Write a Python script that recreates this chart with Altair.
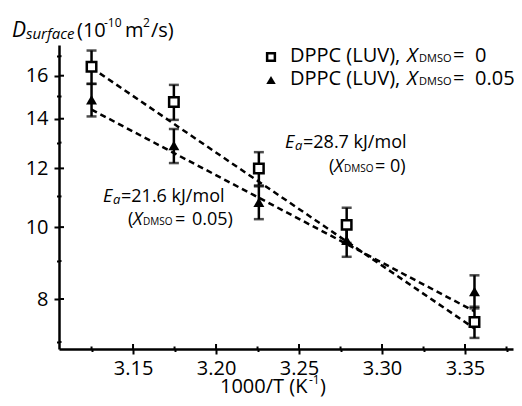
import altair as alt
import pandas as pd

FONT = "Open Sans"

# ---- data ----
inv_T = [3.125, 3.1746, 3.2258, 3.2787, 3.3557]          # 1000/T (K^-1)
d_x0 = [16.45, 14.75, 12.0, 10.07, 7.45]                   # X_DMSO = 0
d_x0_err = [0.85, 0.80, 0.62, 0.55, 0.36]
d_x05 = [14.85, 12.88, 10.8, 9.6, 8.19]                    # X_DMSO = 0.05
d_x05_err = [0.75, 0.68, 0.55, 0.48, 0.42]
fit_x = [3.125, 3.3557]
fit_x0 = [16.4, 7.3]                                        # Ea = 28.7 kJ/mol
fit_x05 = [14.4, 7.7]                                       # Ea = 21.6 kJ/mol

x_major = [3.15, 3.2, 3.25, 3.3, 3.35]
x_minor = [3.125, 3.175, 3.225, 3.275, 3.325, 3.375]
y_major = [8, 10, 12, 14, 16]
y_minor = [7, 9, 11, 13, 15, 17]

pts = pd.DataFrame({
    "x": inv_T * 2,
    "y": d_x0 + d_x05,
    "lo": [v - e for v, e in zip(d_x0, d_x0_err)] + [v - e for v, e in zip(d_x05, d_x05_err)],
    "hi": [v + e for v, e in zip(d_x0, d_x0_err)] + [v + e for v, e in zip(d_x05, d_x05_err)],
    "series": ["x0"] * 5 + ["x05"] * 5,
})
fits = pd.DataFrame({
    "x": fit_x * 2,
    "y": fit_x0 + fit_x05,
    "series": ["x0"] * 2 + ["x05"] * 2,
})

xscale = alt.Scale(domain=[3.1054, 3.3789], nice=False, zero=False)
yscale = alt.Scale(type="log", domain=[6.85, 17.6], nice=False)

xaxis = alt.Axis(
    values=sorted(x_major + x_minor),
    labelExpr="round(datum.value*1000) % 50 == 0 ? format(datum.value, '.2f') : ''",
    tickSize={"condition": {"test": "round(datum.value*1000) % 50 == 0", "value": 5}, "value": 2.5},
    tickWidth=2, tickColor="black", domainWidth=2.5, domainColor="black",
    labelFont=FONT, labelFontSize=20, labelColor="black", labelPadding=4,
    grid=False, title=None,
)
yaxis = alt.Axis(
    values=sorted(y_major + y_minor),
    labelExpr="(datum.value % 2 == 0 && datum.value <= 16) ? datum.value : ''",
    tickSize={"condition": {"test": "datum.value % 2 == 0", "value": 5}, "value": 2.5},
    tickWidth=2, tickColor="black", domainWidth=2.5, domainColor="black",
    labelFont=FONT, labelFontSize=20, labelColor="black", labelPadding=6,
    grid=False, title=None,
)

X = alt.X("x:Q", scale=xscale, axis=xaxis)
Y = alt.Y("y:Q", scale=yscale, axis=yaxis)
Xs = alt.X("x:Q", scale=xscale)
Ys = alt.Y("y:Q", scale=yscale)

lines = alt.Chart(fits).mark_line(
    color="black", strokeWidth=2.5, strokeDash=[6, 4]
).encode(x=X, y=Y, detail="series:N")

# inward halves of the crossing axis ticks
def xticks_in(vals, length):
    return alt.Chart(pd.DataFrame({"x": vals})).mark_rule(color="black", strokeWidth=2).encode(
        x=Xs, y=alt.value(304), y2=alt.value(304 - length))

def yticks_in(vals, length):
    return alt.Chart(pd.DataFrame({"y": vals})).mark_rule(color="black", strokeWidth=2).encode(
        y=Ys, x=alt.value(0), x2=alt.value(length))

ticks_in = [xticks_in(x_major, 5), xticks_in(x_minor, 2.5),
            yticks_in(y_major, 5), yticks_in(y_minor, 2.5)]

bars = alt.Chart(pts).mark_rule(color="black", strokeWidth=2.5).encode(
    x=Xs, y=alt.Y("lo:Q", scale=yscale), y2="hi:Q"
)
caps_lo = alt.Chart(pts).mark_tick(color="black", thickness=2.5, size=10, orient="horizontal").encode(
    x=Xs, y=alt.Y("lo:Q", scale=yscale)
)
caps_hi = alt.Chart(pts).mark_tick(color="black", thickness=2.5, size=10, orient="horizontal").encode(
    x=Xs, y=alt.Y("hi:Q", scale=yscale)
)

squares = alt.Chart(pts).transform_filter("datum.series == 'x0'").mark_point(
    shape="square", size=90, filled=True, fill="white", stroke="black", strokeWidth=2.5, opacity=1
).encode(x=Xs, y=Ys)
tris = alt.Chart(pts).transform_filter("datum.series == 'x05'").mark_point(
    shape="triangle-up", size=120, filled=True, color="black", opacity=1
).encode(x=Xs, y=Ys)

ONE = alt.Data(values=[{"k": 0}])


def txt(s, x, y, size, italic=False, align="left"):
    return alt.Chart(ONE).mark_text(
        text=s, font=FONT, fontSize=size, fontStyle="italic" if italic else "normal",
        align=align, baseline="alphabetic", color="black",
    ).encode(x=alt.value(x), y=alt.value(y))


texts = [
    # y-axis title
    txt("D", -47, -8, 21, italic=True),
    txt("surface", -33, -6, 15, italic=True),
    txt("(10", 18, -8, 20),
    txt("-10", 45, -18, 12),
    txt("m", 66, -8, 20),
    txt("2", 84, -18, 12),
    txt("/s)", 92, -8, 20),
    # x-axis title
    txt("1000/T (K", 161, 348, 20),
    txt("-1", 250, 339, 12),
    txt(")", 261, 348, 20),
    # legend
    txt("DPPC (LUV),", 231, 17, 20),
    txt("X", 348, 17, 20, italic=True),
    txt("DMSO", 360, 17, 11),
    txt("=", 394, 17, 20),
    txt("0", 416, 17, 20),
    txt("DPPC (LUV),", 231, 40, 20),
    txt("X", 348, 40, 20, italic=True),
    txt("DMSO", 360, 40, 11),
    txt("=", 394, 40, 20),
    txt("0.05", 416, 40, 20),
    # annotation Ea = 28.7
    txt("E", 226, 103, 18, italic=True),
    txt("a", 236, 105, 13, italic=True),
    txt("=28.7 kJ/mol", 244, 103, 18),
    txt("(", 270, 127, 18),
    txt("X", 275, 127, 18, italic=True),
    txt("DMSO", 285, 127, 10),
    txt("=", 316, 127, 18),
    txt("0)", 331, 127, 18),
    # annotation Ea = 21.6
    txt("E", 44, 157, 18, italic=True),
    txt("a", 54, 159, 13, italic=True),
    txt("=21.6 kJ/mol", 62, 157, 18),
    txt("(", 69, 180, 18),
    txt("X", 74, 180, 18, italic=True),
    txt("DMSO", 84, 180, 10),
    txt("=", 116, 180, 18),
    txt("0.05)", 133, 180, 18),
]

legend_sq = alt.Chart(ONE).mark_point(
    shape="square", size=60, filled=True, fill="white", stroke="black", strokeWidth=2.5, opacity=1
).encode(x=alt.value(212), y=alt.value(12))
legend_tri = alt.Chart(ONE).mark_point(
    shape="triangle-up", size=90, filled=True, color="black", opacity=1
).encode(x=alt.value(212), y=alt.value(35))

chart = alt.layer(
    lines, *ticks_in, bars, caps_lo, caps_hi, squares, tris, legend_sq, legend_tri, *texts
).properties(
    width=454, height=304,
    autosize=alt.AutoSizeParams(type="none"),
    padding={"left": 51, "top": 37, "right": 1, "bottom": 49},
    background="white",
).configure_view(stroke=None)

chart.save("out.html", embed_options={"renderer": "svg", "actions": False})
